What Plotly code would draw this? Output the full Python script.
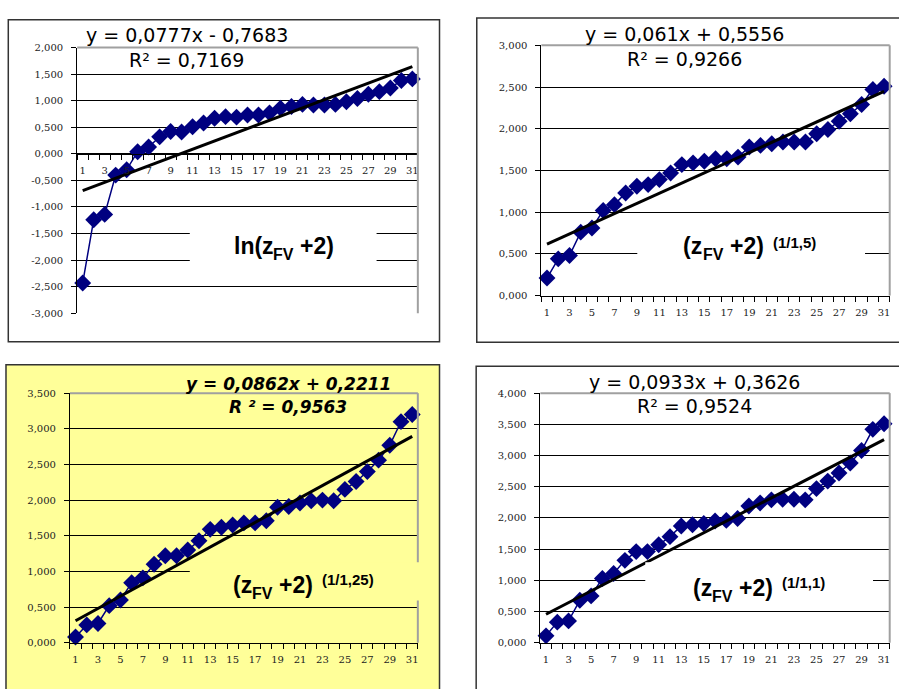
import plotly.graph_objects as go

W, H = 899, 689

categories = list(range(1, 32))
x_tick_values = list(range(1, 32, 2))
x_tick_labels = [str(v) for v in x_tick_values]

# ln(zFV + 2)
ln_values = [-2.43, -1.24, -1.14, -0.40, -0.30, 0.04, 0.13, 0.32, 0.42, 0.41,
             0.51, 0.58, 0.67, 0.70, 0.69, 0.73, 0.73, 0.77, 0.86, 0.89,
             0.93, 0.92, 0.92, 0.93, 0.98, 1.04, 1.12, 1.17, 1.24, 1.38, 1.41]
# (zFV + 2)^(1/1,5)
pow15_values = [0.21, 0.44, 0.48, 0.76, 0.81, 1.02, 1.09, 1.23, 1.31, 1.33,
                1.39, 1.47, 1.57, 1.59, 1.61, 1.64, 1.64, 1.66, 1.78, 1.80,
                1.82, 1.84, 1.84, 1.84, 1.94, 1.99, 2.09, 2.18, 2.29, 2.47, 2.51]
# (zFV + 2)^(1/1,25)
pow125_values = [0.08, 0.25, 0.27, 0.52, 0.60, 0.84, 0.91, 1.10, 1.22, 1.22,
                 1.30, 1.43, 1.59, 1.62, 1.65, 1.68, 1.68, 1.71, 1.90, 1.91,
                 1.96, 1.99, 2.00, 1.99, 2.15, 2.26, 2.40, 2.56, 2.77, 3.10, 3.20]
# (zFV + 2)^(1/1,1)
pow11_values = [0.11, 0.33, 0.35, 0.68, 0.75, 1.03, 1.11, 1.32, 1.46, 1.46,
                1.57, 1.70, 1.87, 1.89, 1.91, 1.95, 1.96, 1.99, 2.19, 2.24,
                2.29, 2.30, 2.30, 2.29, 2.47, 2.59, 2.72, 2.88, 3.08, 3.42, 3.51]

trend_slopes = [0.0777, 0.061, 0.0862, 0.0933]
trend_intercepts = [-0.7683, 0.5556, 0.2211, 0.3626]

eq_texts = ["y = 0,0777x - 0,7683", "y = 0,061x + 0,5556",
            "y = 0,0862x + 0,2211", "y = 0,0933x + 0,3626"]
r2_texts = ["R² = 0,7169", "R² = 0,9266", "R ² = 0,9563", "R² = 0,9524"]
label_heads = ["ln(z", "(z", "(z", "(z"]
label_sub = "FV"
label_tail = "+2)"
exp_texts = ["", "(1/1,5)", "(1/1,25)", "(1/1,1)"]

y_ranges = [(-3.0, 2.0), (0.0, 3.0), (0.0, 3.5), (0.0, 4.0)]
series = [ln_values, pow15_values, pow125_values, pow11_values]

# layout geometry (pixels)
plot_boxes = [(77.3, 418.3, 42.3, 312.7), (542, 890.7, 40, 294.7),
              (70, 418.3, 394, 648), (541, 890.7, 394, 648)]
outer_boxes = [(8.3, 440, 14, 341.7), (477.3, 910, 12.3, 342.3),
               (6, 440, 365, 700), (476.7, 910, 366.7, 700)]
panel_fill = ["white", "white", "#FFFF99", "white"]
eq_pos = [(187, 29.2, 55), (685, 28, 54.3), (288.5, 384.5, 408), (695, 382.3, 407.3)]
# label pieces: (x head, x sub, x tail, y main centre)
label_pos = [(233, 272.6, 299.4, 244), (683, 702.5, 729.5, 244),
             (232, 251.2, 278, 589), (693, 712.2, 739, 592)]
exp_pos = [None, (773, 240.6), (321.7, 584), (781.7, 586.5)]
label_boxes = [(190, 377, 212, 280), (638, 866, 222, 290),
               (190, 425, 566, 605), (646, 874, 566, 608)]


def fx(px):
    return px / W


def fy(py):
    return 1 - py / H


def fmt(v):
    return f"{v:.3f}".replace(".", ",")


fig = go.Figure()
shapes = []
annotations = []
axes = {}

tick_font = dict(family="DejaVu Serif", size=10, color="#222222")


def note(text, x, y, font, xanchor="center"):
    annotations.append(dict(text=text, x=fx(x), y=fy(y), xref="paper", yref="paper",
                            showarrow=False, xanchor=xanchor, yanchor="middle",
                            borderpad=0, font=font))


for i in range(4):
    n = "" if i == 0 else str(i + 1)
    xa, ya = "x" + n, "y" + n
    x0, x1, y0, y1 = plot_boxes[i]
    ymin, ymax = y_ranges[i]
    yticks = []
    v = ymin
    while v <= ymax + 1e-9:
        yticks.append(round(v, 3))
        v += 0.5
    ydom = [fy(y1), fy(y0)]
    xaxis = dict(domain=[fx(x0), fx(x1)], range=[0.5, 31.5], tickmode="array",
                 tickvals=x_tick_values, ticktext=x_tick_labels,
                 ticks="outside", ticklen=5, tickcolor="rgba(0,0,0,0)",
                 minor=dict(tickmode="array",
                            tickvals=[k + 0.5 for k in range(0, 32)],
                            ticks="outside", ticklen=5, tickcolor="black",
                            showgrid=False),
                 showline=True, linecolor="black", linewidth=1,
                 showgrid=False, zeroline=False, tickfont=tick_font,
                 ticklabelstandoff=2, fixedrange=True)
    if ymin < 0:
        xaxis.update(anchor="free",
                     position=ydom[0] + (0 - ymin) / (ymax - ymin) * (ydom[1] - ydom[0]))
    else:
        xaxis.update(anchor=ya)
    yaxis = dict(domain=ydom, range=[ymin, ymax], anchor=xa, tickmode="array",
                 tickvals=yticks, ticktext=[fmt(t) for t in yticks],
                 ticks="outside", ticklen=5, tickcolor="black",
                 showline=True, linecolor="black", linewidth=1,
                 showgrid=True, gridcolor="black", gridwidth=1,
                 zeroline=False, tickfont=tick_font, ticklabelstandoff=6,
                 fixedrange=True)
    axes["xaxis" + n] = xaxis
    axes["yaxis" + n] = yaxis

    fig.add_trace(go.Scatter(x=categories, y=series[i], mode="lines+markers",
                             marker=dict(symbol="diamond", size=13, color="#000080"),
                             line=dict(color="#000080", width=1.5),
                             xaxis=xa, yaxis=ya, cliponaxis=False))
    s, b = trend_slopes[i], trend_intercepts[i]
    fig.add_trace(go.Scatter(x=[categories[0], categories[-1]],
                             y=[s * categories[0] + b, s * categories[-1] + b],
                             mode="lines", line=dict(color="black", width=3),
                             xaxis=xa, yaxis=ya))

    # outer panel box
    ox0, ox1, oy0, oy1 = outer_boxes[i]
    shapes.append(dict(type="rect", xref="paper", yref="paper",
                       x0=fx(ox0), x1=fx(ox1), y0=fy(oy1), y1=fy(oy0),
                       fillcolor=panel_fill[i],
                       line=dict(color="#333333", width=1.5),
                       layer="below"))
    # gray top/right frame of the plot area
    shapes.append(dict(type="line", xref="paper", yref="paper",
                       x0=fx(x0), x1=fx(x1), y0=fy(y0), y1=fy(y0),
                       line=dict(color="#A0A0A0", width=2), layer="above"))
    shapes.append(dict(type="line", xref="paper", yref="paper",
                       x0=fx(x1), x1=fx(x1), y0=fy(y0), y1=fy(y1),
                       line=dict(color="#A0A0A0", width=2), layer="above"))
    # label background box
    lx0, lx1, ly0, ly1 = label_boxes[i]
    shapes.append(dict(type="rect", xref="paper", yref="paper",
                       x0=fx(lx0), x1=fx(lx1), y0=fy(ly1), y1=fy(ly0),
                       fillcolor=panel_fill[i], line=dict(width=0),
                       layer="above"))

    ex, ey1, ey2 = eq_pos[i]
    if i == 2:
        efont = dict(family="DejaVu Sans", size=17, color="black",
                     weight="bold", style="italic")
    else:
        efont = dict(family="DejaVu Sans", size=19, color="black")
    note(eq_texts[i], ex, ey1, efont)
    note(r2_texts[i], ex, ey2, efont)

    hx, sx, tx, ly = label_pos[i]
    main_font = dict(family="Liberation Sans, Arial", size=23, color="black",
                     weight="bold")
    sub_font = dict(family="Liberation Sans, Arial", size=16, color="black",
                    weight="bold")
    note(label_heads[i], hx, ly, main_font, "left")
    note(label_sub, sx, ly + 9.4, sub_font, "left")
    note(label_tail, tx, ly, main_font, "left")
    if exp_pos[i]:
        px_, py_ = exp_pos[i]
        note(exp_texts[i], px_, py_,
             dict(family="Liberation Sans, Arial", size=15, color="black",
                  weight="bold"), "left")

fig.update_layout(width=W, height=H, margin=dict(l=0, r=0, t=0, b=0),
                  paper_bgcolor="white", plot_bgcolor="rgba(0,0,0,0)",
                  showlegend=False, shapes=shapes, annotations=annotations, **axes)
fig.write_html("out.html", config={"displayModeBar": False},
               post_script="document.body.style.margin='0';"
                           "document.body.style.overflow='hidden';")
